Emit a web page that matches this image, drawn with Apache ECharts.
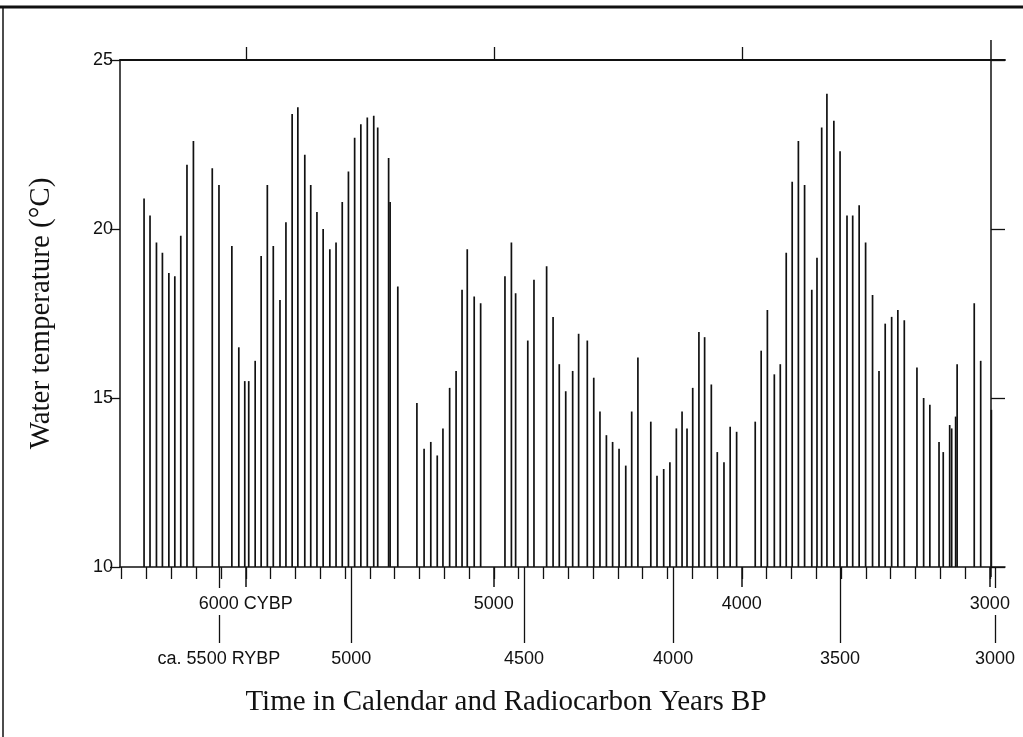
<!DOCTYPE html>
<html>
<head>
<meta charset="utf-8">
<style>
  html, body { margin: 0; padding: 0; background: #fff; }
  #chart { width: 1023px; height: 737px; }
</style>
</head>
<body>
<div id="chart"></div>
<script src="https://cdn.jsdelivr.net/npm/echarts@6/dist/echarts.min.js"></script>
<script>
// sample ages (calendar years BP) and water temperature (deg C)
var years = [
  6410, 6386, 6360, 6336, 6310, 6286, 6262, 6237, 6211, 6135,
  6108, 6056, 6028, 6004, 5988, 5962, 5938, 5913, 5889, 5862,
  5838, 5813, 5790, 5762, 5738, 5713, 5688, 5661, 5636, 5611,
  5586, 5561, 5536, 5510, 5484, 5468, 5424, 5418, 5387, 5310,
  5281, 5254, 5228, 5205, 5178, 5152, 5128, 5107, 5079, 5053,
  4955, 4929, 4912, 4863, 4838, 4787, 4761, 4736, 4710, 4682,
  4658, 4623, 4597, 4572, 4546, 4521, 4495, 4468, 4444, 4419,
  4367, 4342, 4315, 4290, 4264, 4241, 4221, 4198, 4173, 4150,
  4123, 4099, 4072, 4047, 4021, 3946, 3922, 3897, 3869, 3845,
  3821, 3797, 3772, 3747, 3718, 3697, 3678, 3657, 3629, 3604,
  3576, 3553, 3527, 3501, 3473, 3447, 3422, 3396, 3371, 3345,
  3294, 3267, 3242, 3205, 3188, 3162, 3154, 3138, 3132, 3063,
  3037, 2994
];
var temps = [
  20.9, 20.4, 19.6, 19.3, 18.7, 18.6, 19.8, 21.9, 22.6, 21.8,
  21.3, 19.5, 16.5, 15.5, 15.5, 16.1, 19.2, 21.3, 19.5, 17.9,
  20.2, 23.4, 23.6, 22.2, 21.3, 20.5, 20.0, 19.4, 19.6, 20.8,
  21.7, 22.7, 23.1, 23.3, 23.35, 23.0, 22.1, 20.8, 18.3, 14.85,
  13.5, 13.7, 13.3, 14.1, 15.3, 15.8, 18.2, 19.4, 18.0, 17.8,
  18.6, 19.6, 18.1, 16.7, 18.5, 18.9, 17.4, 16.0, 15.2, 15.8,
  16.9, 16.7, 15.6, 14.6, 13.9, 13.7, 13.5, 13.0, 14.6, 16.2,
  14.3, 12.7, 12.9, 13.1, 14.1, 14.6, 14.1, 15.3, 16.95, 16.8,
  15.4, 13.4, 13.1, 14.15, 14.0, 14.3, 16.4, 17.6, 15.7, 16.0,
  19.3, 21.4, 22.6, 21.3, 18.2, 19.15, 23.0, 24.0, 23.2, 22.3,
  20.4, 20.4, 20.7, 19.6, 18.05, 15.8, 17.2, 17.4, 17.6, 17.3,
  15.9, 15.0, 14.8, 13.7, 13.4, 14.2, 14.1, 14.45, 16.0, 17.8,
  16.1, 14.65
];

// calendar-year ticks (every 100 yr) and labelled thousands
var minorTicks = [3000, 3100, 3200, 3300, 3400, 3500, 3600, 3700, 3800, 3900,
  4000, 4100, 4200, 4300, 4400, 4500, 4600, 4700, 4800, 4900,
  5000, 5100, 5200, 5300, 5400, 5500, 5600, 5700, 5800, 5900,
  6000, 6100, 6200, 6300, 6400, 6500];
var calTicks = [3000, 4000, 5000, 6000];
var calLabels = ['3000', '4000', '5000', '6000 CYBP'];
var topTicks = [4000, 5000, 6000];

// radiocarbon ages placed on the calendar scale
var rybpPos = [6108, 5575, 4878, 4277, 3604, 2979];
var rybpLabels = ['ca. 5500 RYBP', '5000', '4500', '4000', '3500', '3000'];
var rybpLong = [5575, 4878, 4277, 3604];
var rybpStub = [6108, 2979];

var data = years.map(function (y, i) { return [y, temps[i]]; });

var chart = echarts.init(document.getElementById('chart'));

var black = '#111';
var sans = 'Liberation Sans';
var serif = 'Liberation Serif';

function calAxis() {
  return {
    type: 'value', min: 2939, max: 6507, inverse: true, gridIndex: 0,
    splitLine: { show: false }
  };
}

var xAxes = [];
// main bottom axis with 100-year ticks
xAxes.push(Object.assign(calAxis(), {
  position: 'bottom',
  axisLine: { show: true, lineStyle: { color: black, width: 1.5 } },
  axisTick: { show: true, customValues: minorTicks, length: 12, lineStyle: { color: black, width: 1.3 } },
  axisLabel: { show: false }
}));
// thousand-year ticks and CYBP labels
xAxes.push(Object.assign(calAxis(), {
  position: 'bottom',
  axisLine: { show: false },
  axisTick: { show: true, customValues: calTicks, length: 20, lineStyle: { color: black, width: 1.5 } },
  axisLabel: {
    show: true, customValues: calTicks, margin: 28, color: black,
    fontFamily: sans, fontSize: 18,
    formatter: function (v) { return calLabels[calTicks.indexOf(v)]; }
  }
}));
// long RYBP ticks
xAxes.push(Object.assign(calAxis(), {
  position: 'bottom',
  axisLine: { show: false },
  axisTick: { show: true, customValues: rybpLong, length: 76, lineStyle: { color: black, width: 1.3 } },
  axisLabel: { show: false }
}));
// short stubs for the RYBP ends
xAxes.push(Object.assign(calAxis(), {
  position: 'bottom',
  axisLine: { show: false },
  axisTick: { show: true, customValues: rybpStub, length: 21, lineStyle: { color: black, width: 1.3 } },
  axisLabel: { show: false }
}));
// RYBP labels row
xAxes.push(Object.assign(calAxis(), {
  position: 'bottom',
  offset: 48,
  axisLine: { show: false },
  axisTick: { show: true, customValues: rybpStub, length: 28, lineStyle: { color: black, width: 1.3 } },
  axisLabel: {
    show: true, customValues: rybpPos, margin: 35, color: black,
    fontFamily: sans, fontSize: 18,
    formatter: function (v) { return rybpLabels[rybpPos.indexOf(v)]; }
  }
}));
// top axis
xAxes.push(Object.assign(calAxis(), {
  position: 'top',
  axisLine: { show: true, lineStyle: { color: black, width: 1.8 } },
  axisTick: { show: true, customValues: topTicks, length: 13, lineStyle: { color: black, width: 1.3 } },
  axisLabel: { show: false }
}));

chart.setOption({
  animation: false,
  backgroundColor: '#fff',
  grid: { left: 120, right: 18, top: 60, bottom: 170, containLabel: false },
  xAxis: xAxes,
  yAxis: [{
    type: 'value', min: 10, max: 25, interval: 5, position: 'left',
    name: 'Water temperature (°C)',
    nameLocation: 'middle', nameGap: 64, nameRotate: 90,
    nameTextStyle: { fontFamily: serif, fontSize: 29, color: black },
    axisLine: { show: true, lineStyle: { color: black, width: 1.5 } },
    axisTick: { show: true, length: 10, lineStyle: { color: black, width: 1.3 } },
    axisLabel: { color: black, fontFamily: sans, fontSize: 18, margin: 7 },
    splitLine: { show: false }
  }, {
    type: 'value', min: 10, max: 25, interval: 5, position: 'right', offset: -14,
    axisLine: { show: true, lineStyle: { color: black, width: 1.5 } },
    axisTick: { show: true, length: 14, lineStyle: { color: black, width: 1.3 } },
    axisLabel: { show: false },
    splitLine: { show: false }
  }],
  series: [{
    type: 'custom',
    xAxisIndex: 0,
    yAxisIndex: 0,
    data: data,
    encode: { x: 0, y: 1 },
    renderItem: function (params, api) {
      var top = api.coord([api.value(0), api.value(1)]);
      var base = api.coord([api.value(0), 10]);
      return {
        type: 'line',
        shape: { x1: top[0], y1: top[1], x2: base[0], y2: base[1] },
        style: { stroke: black, lineWidth: 1.7 }
      };
    }
  }],
  graphic: [
    { id: 'frameTop', type: 'line', shape: { x1: 0, y1: 7, x2: 1023, y2: 7 }, style: { stroke: black, lineWidth: 3 } },
    { id: 'frameLeft', type: 'line', shape: { x1: 3, y1: 6, x2: 3, y2: 737 }, style: { stroke: black, lineWidth: 1.5 } },
    {
      id: 'xTitle', type: 'text', x: 506, y: 702,
      style: {
        text: 'Time in Calendar and Radiocarbon Years BP',
        fontFamily: serif, fontSize: 29, fill: black,
        align: 'center', verticalAlign: 'middle'
      }
    }
  ]
});

// the right frame line pokes past the top and bottom axes
var pTop = chart.convertToPixel({ xAxisIndex: 0, yAxisIndex: 0 }, [2995.5, 25]);
var pBot = chart.convertToPixel({ xAxisIndex: 0, yAxisIndex: 0 }, [2995.5, 10]);
chart.setOption({
  graphic: [
    { id: 'rightUp', type: 'line', shape: { x1: pTop[0], y1: pTop[1] - 20, x2: pTop[0], y2: pTop[1] }, style: { stroke: black, lineWidth: 1.5 } },
    { id: 'rightDown', type: 'line', shape: { x1: pBot[0], y1: pBot[1], x2: pBot[0], y2: pBot[1] + 10 }, style: { stroke: black, lineWidth: 1.5 } }
  ]
});
</script>
</body>
</html>
